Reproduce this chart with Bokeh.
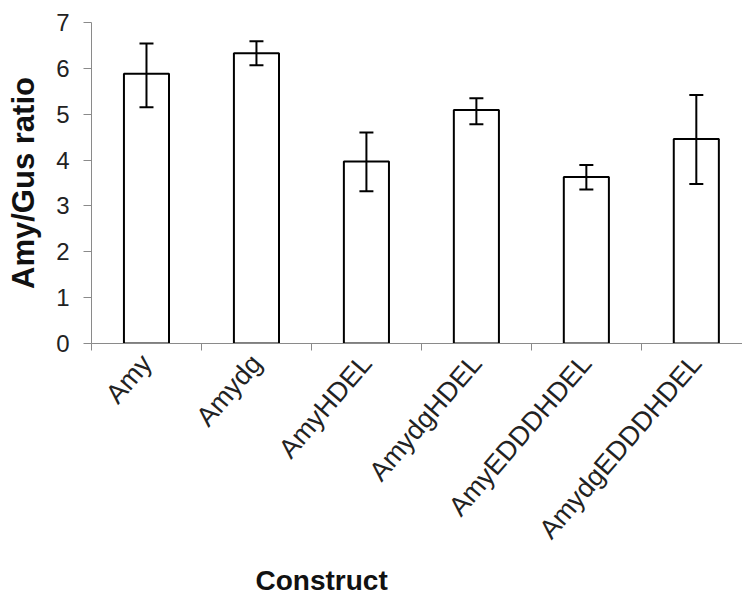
import math
from bokeh.plotting import figure
from bokeh.models import ColumnDataSource, Range1d, FixedTicker, Whisker, TeeHead, Title
from bokeh.embed import file_html
from bokeh.resources import INLINE

categories = ["Amy", "Amydg", "AmyHDEL", "AmydgHDEL", "AmyEDDDHDEL", "AmydgEDDDHDEL"]
ratio = [5.88, 6.33, 3.97, 5.09, 3.63, 4.46]
err_low = [5.15, 6.07, 3.32, 4.78, 3.36, 3.48]
err_high = [6.54, 6.59, 4.60, 5.35, 3.89, 5.42]
y_ticks = [0, 1, 2, 3, 4, 5, 6, 7]

centers = [i + 0.5 for i in range(len(categories))]
bounds = [i for i in range(len(categories) + 1)]

src = ColumnDataSource(dict(x=centers, top=ratio, lower=err_low, upper=err_high, name=categories))

FONT = "Liberation Sans"

p = figure(width=742, height=601, output_backend="svg", toolbar_location=None,
           x_range=Range1d(0, 5.92), y_range=Range1d(0, 7),
           min_border_left=91, min_border_right=0, min_border_top=22, min_border_bottom=258)
p.outline_line_color = None
p.xgrid.visible = False
p.ygrid.visible = False
p.background_fill_color = "white"
p.border_fill_color = "white"

p.vbar(x="x", top="top", width=0.41, bottom=0, source=src,
       fill_color="white", line_color="black", line_width=2)

w = Whisker(base="x", lower="lower", upper="upper", source=src,
            line_color="black", line_width=2, level="overlay",
            upper_head=TeeHead(size=14, line_color="black", line_width=2),
            lower_head=TeeHead(size=14, line_color="black", line_width=2))
p.add_layout(w)

AX = "#8a8a8a"
# y axis
p.yaxis.ticker = FixedTicker(ticks=y_ticks)
p.yaxis.axis_line_color = AX
p.yaxis.major_tick_line_color = AX
p.yaxis.major_tick_in = 0
p.yaxis.major_tick_out = 8
p.yaxis.minor_tick_line_color = None
p.yaxis.major_label_standoff = 14
p.yaxis.major_label_text_font = FONT
p.yaxis.major_label_text_font_size = "24px"
p.yaxis.major_label_text_color = "#222222"
p.yaxis.axis_label = "Amy/Gus ratio"
p.yaxis.axis_label_text_font = FONT
p.yaxis.axis_label_text_font_style = "bold"
p.yaxis.axis_label_text_font_size = "31px"
p.yaxis.axis_label_text_color = "#111111"
p.yaxis.axis_label_standoff = 12

# x axis
p.xaxis.ticker = FixedTicker(ticks=centers, minor_ticks=bounds)
p.xaxis.major_label_overrides = {c: n for c, n in zip(centers, categories)}
p.xaxis.axis_line_color = AX
p.xaxis.major_tick_line_color = None
p.xaxis.major_tick_in = 0
p.xaxis.major_tick_out = 0
p.xaxis.minor_tick_line_color = AX
p.xaxis.minor_tick_in = 0
p.xaxis.minor_tick_out = 7
p.xaxis.major_label_orientation = 0.86
p.xaxis.major_label_standoff = 8
p.xaxis.major_label_text_font = FONT
p.xaxis.major_label_text_font_size = "27px"
p.xaxis.major_label_text_color = "#222222"

t = Title(text="Construct", align="left", offset=164, standoff=11,
          text_font=FONT, text_font_style="bold", text_font_size="28px", text_color="#111111")
p.add_layout(t, "below")

open("out.html", "w").write(file_html(p, INLINE))
